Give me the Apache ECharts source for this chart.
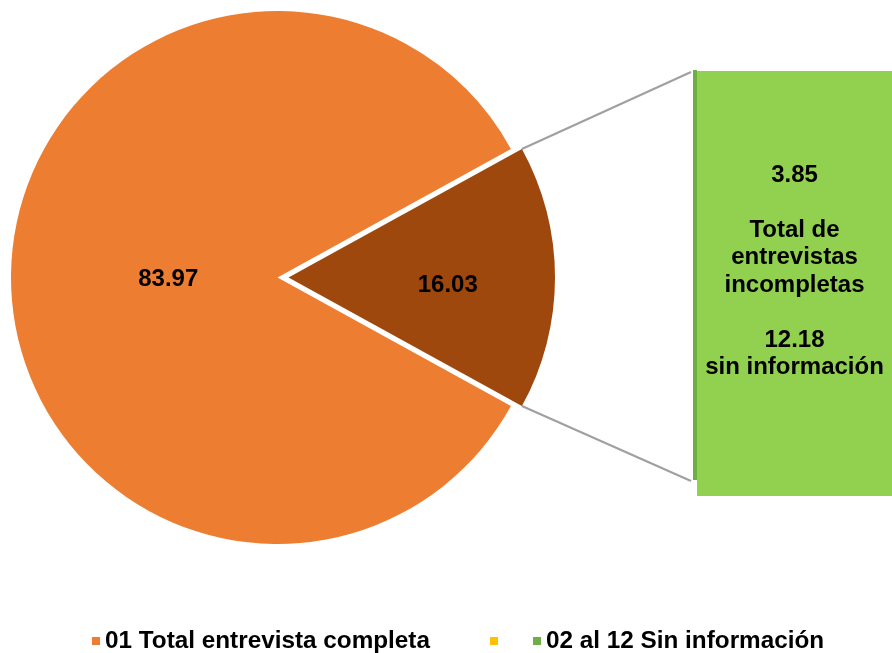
<!DOCTYPE html>
<html>
<head>
<meta charset="utf-8">
<script src="https://cdn.jsdelivr.net/npm/echarts@6/dist/echarts.min.js"></script>
<style>
html,body{margin:0;padding:0;background:#fff;}
#chart{width:892px;height:653px;}
</style>
</head>
<body>
<div id="chart"></div>
<script>
// ---- data ----
const legendNames = ['01 Total entrevista completa', ' ', '02 al 12 Sin información'];
const pieNames = ['Otros', '01 Total entrevista completa'];
const pieValues = [16.03, 83.97];
const barNames = [' ', '02 al 12 Sin información'];
const barValues = [3.85, 12.18];
const barTexts = ['Total de\nentrevistas\nincompletas', 'sin información'];

// ---- layout / style constants ----
const FONT = '"Liberation Sans", Arial, sans-serif';
const PIE_C = [277.5, 277.5];
const PIE_R = 266.5;
const EXPLODE = 11;
const GRID = { left: 697, top: 71, right: -9, bottom: 157 };
const H = 653;

const pieTotal = pieValues.reduce((a, b) => a + b, 0);
const halfAngle = pieValues[0] / pieTotal * 360 / 2;
const barTotal = barValues.reduce((a, b) => a + b, 0);

const rad = halfAngle * Math.PI / 180;
const cornerTop = [PIE_C[0] + EXPLODE + PIE_R * Math.cos(rad), PIE_C[1] - PIE_R * Math.sin(rad)];
const cornerBot = [PIE_C[0] + EXPLODE + PIE_R * Math.cos(rad), PIE_C[1] + PIE_R * Math.sin(rad)];
const barH = H - GRID.top - GRID.bottom;
const sideH = barH - 15;

const chart = echarts.init(document.getElementById('chart'), null, { renderer: 'canvas' });

const legendCommon = {
  top: 629, padding: 0, icon: 'rect', itemWidth: 8, itemHeight: 8,
  selectedMode: false,
  textStyle: { fontFamily: FONT, fontWeight: 'bold', fontSize: 24.3, color: '#000' }
};

const option = {
  animation: false,
  backgroundColor: '#fff',
  legend: [
    Object.assign({ data: [legendNames[0]], left: 92 }, legendCommon),
    Object.assign({ data: [legendNames[1]], left: 490 }, legendCommon),
    Object.assign({ data: [legendNames[2]], left: 533 }, legendCommon)
  ],
  grid: { left: GRID.left, top: GRID.top, right: GRID.right, bottom: GRID.bottom },
  xAxis: { type: 'category', data: ['b'], show: false },
  yAxis: { type: 'value', min: 0, max: barTotal, show: false },
  graphic: [
    { type: 'rect', z: 1, shape: { x: GRID.left - 4, y: GRID.top - 1, width: 4, height: sideH }, style: { fill: '#6FAE45' } },
    { type: 'line', z: 1, shape: { x1: cornerTop[0], y1: cornerTop[1], x2: GRID.left - 6, y2: GRID.top + 1 }, style: { stroke: '#A0A0A0', lineWidth: 2.2 } },
    { type: 'line', z: 1, shape: { x1: cornerBot[0], y1: cornerBot[1], x2: GRID.left - 6, y2: GRID.top + sideH }, style: { stroke: '#A0A0A0', lineWidth: 2.2 } }
  ],
  series: [
    {
      type: 'pie',
      center: PIE_C,
      radius: [0, PIE_R],
      startAngle: halfAngle,
      clockwise: true,
      selectedMode: 'single',
      selectedOffset: EXPLODE,
      emphasis: { disabled: true },
      avoidLabelOverlap: false,
      label: {
        show: true, position: 'inside', color: '#000',
        fontFamily: FONT, fontWeight: 'bold', fontSize: 24,
        formatter: p => p.value.toFixed(2)
      },
      labelLine: { show: false },
      labelLayout: function (p) {
        return p.dataIndex === 0 ? { dx: 23, dy: 8 } : { dx: 27, dy: 2 };
      },
      data: [
        { name: pieNames[0], value: pieValues[0], selected: true, itemStyle: { color: '#9E480E' } },
        { name: pieNames[1], value: pieValues[1], itemStyle: { color: '#ED7D31' } }
      ]
    },
    {
      type: 'bar',
      name: barNames[0],
      stack: 's',
      barWidth: '100%',
      itemStyle: { color: '#FFC000' },
      emphasis: { disabled: true },
      data: [{ value: barValues[0], itemStyle: { color: '#92D050' } }]
    },
    {
      type: 'bar',
      name: barNames[1],
      stack: 's',
      barWidth: '100%',
      itemStyle: { color: '#70AD47' },
      emphasis: { disabled: true },
      label: {
        show: true, position: 'inside', color: '#000',
        fontFamily: FONT, fontWeight: 'bold', fontSize: 24, lineHeight: 27.5,
        offset: [0, 39],
        formatter: () => barValues[0].toFixed(2) + '\n\n' + barTexts[0] + '\n\n' + barValues[1].toFixed(2) + '\n' + barTexts[1]
      },
      data: [{ value: barValues[1], itemStyle: { color: '#92D050' } }]
    }
  ]
};

chart.setOption(option);
</script>
</body>
</html>
